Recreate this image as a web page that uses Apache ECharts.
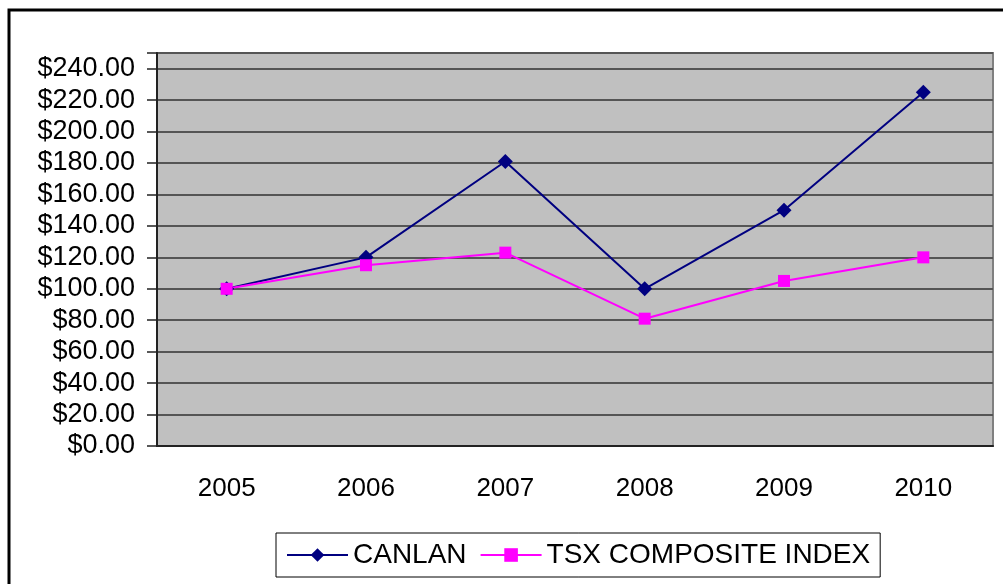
<!DOCTYPE html>
<html>
<head>
<meta charset="utf-8">
<script src="https://cdn.jsdelivr.net/npm/echarts@6/dist/echarts.min.js"></script>
<style>
  html, body { margin: 0; padding: 0; background: #fff; }
  #chart { width: 1003px; height: 584px; }
</style>
</head>
<body>
<div id="chart"></div>
<script>
const years = ['2005', '2006', '2007', '2008', '2009', '2010'];
const canlan = [100, 120, 181, 100, 150, 225];
const tsx = [100, 115, 123, 81, 105, 120];
const seriesNames = ['CANLAN', 'TSX COMPOSITE INDEX'];

const font = 'Liberation Sans, Arial, sans-serif';

const chart = echarts.init(document.getElementById('chart'));
chart.setOption({
  backgroundColor: '#fff',
  animation: false,
  graphic: [{
    type: 'rect',
    shape: { x: 9, y: 10, width: 1100, height: 700 },
    style: { fill: 'none', stroke: '#000', lineWidth: 3 },
    silent: true,
  }],
  grid: {
    left: 157, right: 10, top: 53, bottom: 138,
    show: true,
    backgroundColor: '#c0c0c0',
    borderColor: '#808080',
    borderWidth: 2,
  },
  legend: {
    left: 276, top: 533,
    padding: [8, 10, 8, 10],
    borderColor: '#000',
    borderWidth: 1,
    itemWidth: 61,
    itemHeight: 17,
    itemGap: 13,
    textStyle: { fontFamily: font, fontSize: 28, color: '#000' },
    data: seriesNames,
  },
  xAxis: {
    type: 'category',
    data: years,
    boundaryGap: true,
    axisLine: { lineStyle: { color: '#222', width: 2 } },
    axisTick: { length: 8, lineStyle: { color: '#222', width: 1.5 } },
    axisLabel: { margin: 30, fontFamily: font, fontSize: 26, color: '#000' },
  },
  yAxis: {
    type: 'value',
    min: 0, max: 250, interval: 20,
    axisLine: { show: true, lineStyle: { color: '#222', width: 2 } },
    axisTick: { show: true, length: 10, lineStyle: { color: '#222', width: 1.5 } },
    splitLine: { lineStyle: { color: '#555', width: 2 } },
    axisLabel: {
      margin: 22, fontFamily: font, fontSize: 27, color: '#000',
      formatter: v => (v > 240 ? '' : '$' + v.toFixed(2)),
    },
  },
  series: [
    {
      name: seriesNames[0],
      type: 'line',
      data: canlan,
      symbol: 'diamond',
      symbolSize: 15,
      color: '#000080',
      lineStyle: { color: '#000080', width: 2 },
      itemStyle: { color: '#000080' },
    },
    {
      name: seriesNames[1],
      type: 'line',
      data: tsx,
      symbol: 'rect',
      symbolSize: 12,
      color: '#ff00ff',
      lineStyle: { color: '#ff00ff', width: 2 },
      itemStyle: { color: '#ff00ff' },
    },
  ],
});
</script>
</body>
</html>
